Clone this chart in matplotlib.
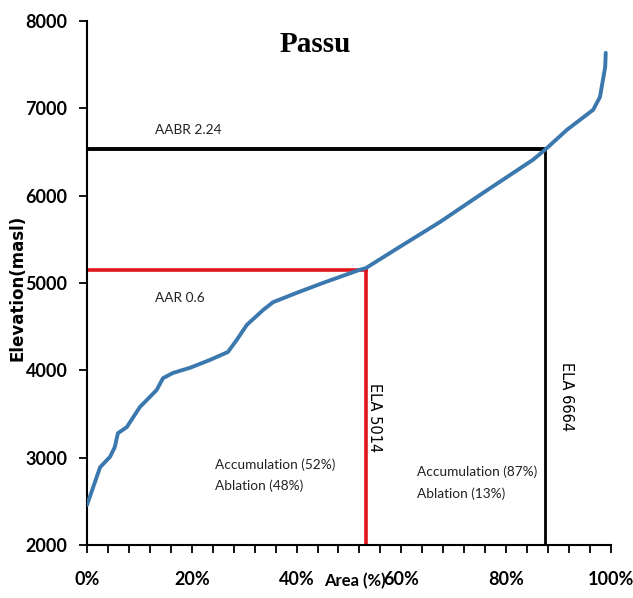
import numpy as np
import matplotlib
matplotlib.use("Agg")
import matplotlib.pyplot as plt
from matplotlib.ticker import MultipleLocator, PercentFormatter

# hypsometric curve (area %, elevation m asl)
area = [0.0, 2.5, 4.4, 5.3, 5.9, 7.6, 10.1, 13.3, 14.5, 16.4, 19.7, 23.5, 26.9,
        28.6, 30.5, 33.6, 35.5, 40.0, 45.0, 52.0, 53.2, 59.7, 67.4, 75.6, 85.1,
        87.4, 91.6, 96.6, 97.9, 98.9, 99.0]
elev = [2458, 2890, 3010, 3120, 3280, 3350, 3580, 3775, 3910, 3970, 4030, 4120,
        4210, 4350, 4520, 4690, 4780, 4887, 5000, 5150, 5170, 5414, 5700, 6032,
        6410, 6525, 6754, 6983, 7130, 7475, 7635]

aar_area, aar_elev = 53.2, 5150
aabr_area, aabr_elev = 87.4, 6536

fig = plt.figure(figsize=(6.33, 5.98), dpi=100)
ax = fig.add_axes([0.1374, 0.0886, 0.8278, 0.8763])

ax.plot(area, elev, color='#3b78ad', lw=2.8, zorder=3, solid_capstyle='round')

# AAR lines
ax.plot([0, aar_area], [aar_elev, aar_elev], color='#e2141c', lw=2.6, zorder=2)
ax.plot([aar_area, aar_area], [2000, aar_elev], color='#e2141c', lw=2.6, zorder=2)
# AABR lines
ax.plot([0, aabr_area], [aabr_elev, aabr_elev], color='black', lw=2.8, zorder=2)
ax.plot([aabr_area, aabr_area], [2000, aabr_elev], color='black', lw=2.0, zorder=2)

ax.set_xlim(0, 100)
ax.set_ylim(2000, 8000)
ax.xaxis.set_major_locator(MultipleLocator(20))
ax.xaxis.set_minor_locator(MultipleLocator(4))
ax.xaxis.set_major_formatter(PercentFormatter(decimals=0))
ax.yaxis.set_major_locator(MultipleLocator(1000))

for s in ['top', 'right']:
    ax.spines[s].set_visible(False)
for s in ['left', 'bottom']:
    ax.spines[s].set_linewidth(1.5)
ax.tick_params(axis='both', which='major', length=6, width=1.3, direction='out')
ax.tick_params(axis='x', which='minor', length=6, width=1.3, direction='out')
ax.tick_params(axis='x', pad=13)
ax.tick_params(axis='y', pad=8)
for lbl in ax.get_xticklabels() + ax.get_yticklabels():
    lbl.set_fontfamily('Lato')
    lbl.set_fontweight('bold')
    lbl.set_fontsize(13)

fig.text(18 / 633, 1 - 288 / 598, 'Elevation(masl)', rotation=90, ha='center', va='center',
         fontsize=12, fontweight='bold', family='DejaVu Sans')
fig.text(355 / 633, 1 - 581 / 598, 'Area (%)', ha='center', va='center', fontsize=12,
         fontweight='bold', family='Lato')

ax.text(43.5, 7727, 'Passu', ha='center', va='center', fontsize=21,
        fontweight='bold', family='Liberation Serif')

txt = dict(fontsize=9.8, family='Lato', color='#222222')
ax.text(13, 6750, 'AABR 2.24', ha='left', va='center', **txt)
ax.text(13, 4830, 'AAR 0.6', ha='left', va='center', **txt)
ax.text(24.4, 2800, 'Accumulation (52%)\nAblation (48%)', ha='left', va='center',
        linespacing=1.85, **txt)
ax.text(63.0, 2715, 'Accumulation (87%)\nAblation (13%)', ha='left', va='center',
        linespacing=1.85, **txt)
ax.text(54.8, 3455, 'ELA 5014', rotation=-90, ha='center', va='center',
        fontsize=10.5, family='DejaVu Sans')
ax.text(91.6, 3695, 'ELA 6664', rotation=-90, ha='center', va='center',
        fontsize=10.5, family='DejaVu Sans')

fig.savefig('out.png', dpi=100)
